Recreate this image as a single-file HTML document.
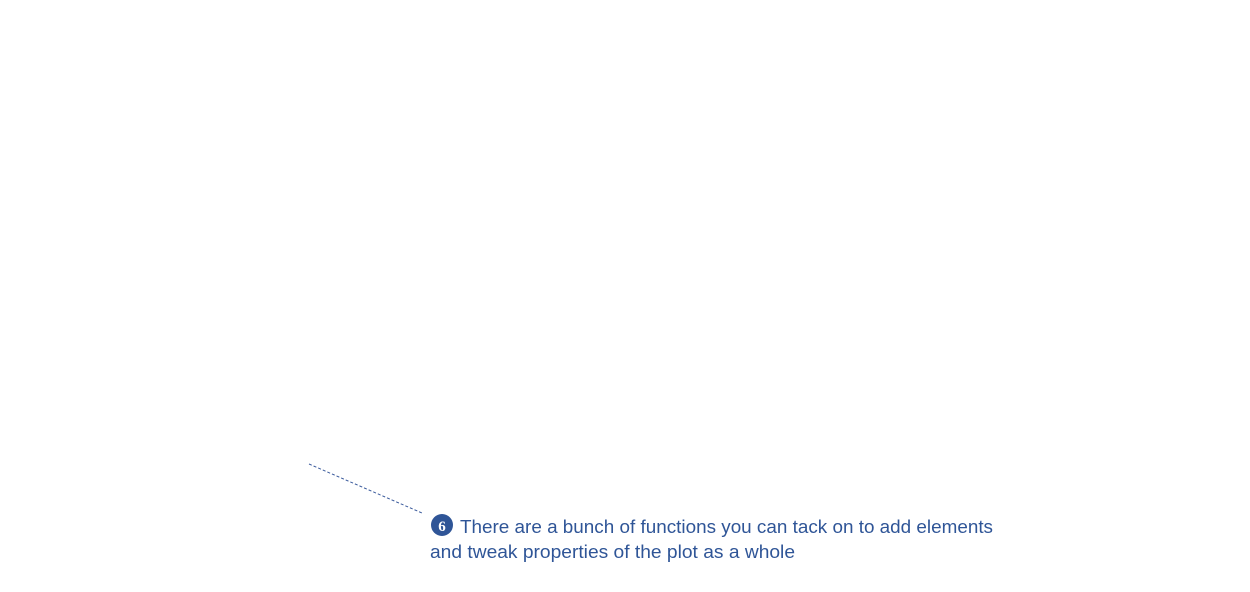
<!DOCTYPE html>
<html><head><meta charset="utf-8"><style>
html,body{margin:0;padding:0;background:#fff;}
svg{display:block;}
</style></head><body>
<svg width="1250" height="592" xmlns="http://www.w3.org/2000/svg">
<line x1="309" y1="464" x2="422" y2="513" stroke="#3a5a9c" stroke-width="1" stroke-dasharray="3,2"/>
<circle cx="442" cy="525" r="11" fill="#2f5597"/>
<text x="442" y="531" text-anchor="middle" font-family="Liberation Serif, serif" font-size="15" fill="#fff" font-weight="bold">6</text>
<text x="460" y="533" font-family="Liberation Sans, sans-serif" font-size="18.5" fill="#2f5597" textLength="533" lengthAdjust="spacingAndGlyphs">There are a bunch of functions you can tack on to add elements</text>
<text x="430" y="558" font-family="Liberation Sans, sans-serif" font-size="18.5" fill="#2f5597" textLength="365" lengthAdjust="spacingAndGlyphs">and tweak properties of the plot as a whole</text>
</svg>
</body></html>
